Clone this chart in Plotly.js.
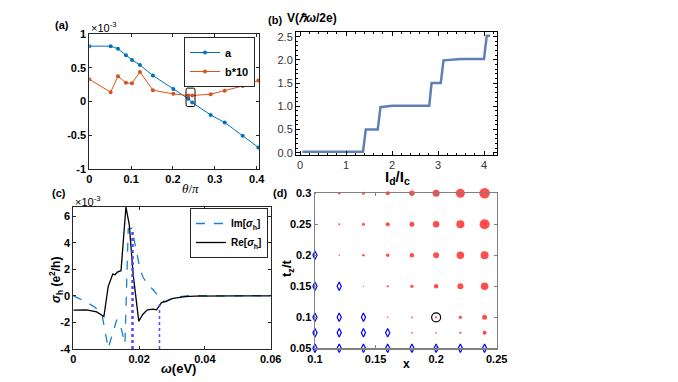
<!DOCTYPE html>
<html>
<head>
<meta charset="utf-8">
<script src="https://cdn.plot.ly/plotly-3.0.1.min.js"></script>
<style>html,body{margin:0;padding:0;background:#fff;}#chart{width:678px;height:382px;}</style>
</head>
<body>
<div id="chart"></div>
<script>
// ---------- Panel (a) data (values in units of 1e-3) ----------
const thetaX = [0, 0.051, 0.0685, 0.0876, 0.102, 0.121, 0.152, 0.2008, 0.2367, 0.246, 0.29, 0.3235, 0.3665, 0.404];
const aVals  = [0.82, 0.82, 0.78, 0.685, 0.616, 0.54, 0.384, 0.187, 0.04, -0.015, -0.2, -0.31, -0.507, -0.68];
const bVals  = [0.33, 0.138, 0.374, 0.276, 0.27, 0.438, 0.167, 0.113, 0.089, 0.089, 0.108, 0.158, 0.23, 0.31];
const highlightBox = {x0: 0.2312, x1: 0.2527, y0: -0.074, y1: 0.198};

// ---------- Panel (b) data ----------
const idX = [0.05, 1.37, 1.43, 1.69, 1.75, 2.0, 2.81, 2.86, 3.06, 3.12, 3.5, 4.0, 4.06, 4.13];
const vY  = [0.02, 0.02, 0.5, 0.5, 0.98, 1.01, 1.01, 1.5, 1.5, 1.99, 2.02, 2.02, 2.52, 2.52];

// ---------- Panel (c) data (sigma in units of 1e-3) ----------
const reX = [0, 0.004, 0.0071, 0.0093, 0.0106, 0.012, 0.0127, 0.0134, 0.0145, 0.016, 0.017, 0.0182, 0.0199, 0.0211, 0.0225, 0.0243, 0.0253, 0.0268, 0.0284, 0.03, 0.0314, 0.034, 0.037, 0.04, 0.043, 0.046, 0.05, 0.055, 0.06];
const reY = [-1.07, -1.05, -1.2, -1.55, 0.7, 1.65, 1.6, 1.8, 1.9, 6.7, 5.4, 1.6, -1.9, -1.4, -1.05, -1.0, -1.05, -0.5, -0.4, -0.2, -0.15, -0.05, -0.02, 0.0, 0.02, 0.0, 0.01, 0.0, 0.0];
const imX = [0, 0.0035, 0.0066, 0.0088, 0.0106, 0.0122, 0.0132, 0.0145, 0.0157, 0.0167, 0.0178, 0.019, 0.0203, 0.0213, 0.0228, 0.0243, 0.0264, 0.0279, 0.0289, 0.0304, 0.0324, 0.035, 0.04, 0.045, 0.05, 0.055, 0.06];
const imY = [0, -0.4, -0.85, -1.5, -3.95, -2.6, -1.8, -2.4, -3.6, 5.05, 5.1, 3.6, 2.0, 1.35, 0.85, 0.45, -0.15, -0.45, -0.3, -0.2, -0.05, 0.02, 0.0, 0.03, 0.0, 0.02, 0.0];
const markLineX   = [0.018, 0.0262];
const markLineTop = [5.0, -0.5];
const markLineW   = [2.5, 1.5];

// ---------- Panel (d) data ----------
const redX    = [0.10,0.12,0.14,0.16,0.18,0.20,0.22,0.24,
                 0.10,0.12,0.14,0.16,0.18,0.20,0.22,0.24,
                 0.12,0.14,0.16,0.18,0.20,0.22,0.24,
                 0.14,0.16,0.18,0.20,0.22,0.24,
                 0.16,0.18,0.20,0.22,0.24,
                 0.18,0.20,0.22,0.24];
const redY    = [0.3,0.3,0.3,0.3,0.3,0.3,0.3,0.3,
                 0.25,0.25,0.25,0.25,0.25,0.25,0.25,0.25,
                 0.2,0.2,0.2,0.2,0.2,0.2,0.2,
                 0.15,0.15,0.15,0.15,0.15,0.15,
                 0.1,0.1,0.1,0.1,0.1,
                 0.075,0.075,0.075,0.075];
const redSize = [2,2.5,3,4,5.5,7,9,10.5,
                 1.5,2,3,4,5,6.5,8,10,
                 1.5,2.5,3.5,4.5,6,7.5,8,
                 1.3,2.3,3.2,4.5,6,7.5,
                 1.5,1.7,2.3,3.3,5,
                 1.7,1.7,2.3,4];
const blueX = [0.10,0.12,0.14,0.16,0.18,0.20,0.22,0.24, 0.10,0.12,0.14,0.16, 0.10,0.12,0.14, 0.10,0.12, 0.10];
const blueY = [0.05,0.05,0.05,0.05,0.05,0.05,0.05,0.05, 0.075,0.075,0.075,0.075, 0.1,0.1,0.1, 0.15,0.15, 0.2];
const circledX = [0.2];
const circledY = [0.1];

// ---------- helpers ----------
const W = 678, H = 382;
const PX = p => p / W;
const PY = p => 1 - p / H;
const FONT = 'Liberation Sans, Arial, Helvetica, sans-serif';
const tickBold = {family: FONT, size: 11, color: '#000', weight: 'bold'};
const blueA = '#0072BD', orangeB = '#D95319';

const traces = [
  {x: thetaX, y: aVals, xaxis: 'x', yaxis: 'y', name: 'a', mode: 'lines+markers',
   line: {color: blueA, width: 1}, marker: {color: blueA, size: 4}, legend: 'legend'},
  {x: thetaX, y: bVals, xaxis: 'x', yaxis: 'y', name: 'b*10', mode: 'lines+markers',
   line: {color: orangeB, width: 1}, marker: {color: orangeB, size: 4}, legend: 'legend'},
  {x: idX, y: vY, xaxis: 'x2', yaxis: 'y2', mode: 'lines', showlegend: false,
   line: {color: '#5E81B5', width: 2.5}},
  {x: imX, y: imY, xaxis: 'x3', yaxis: 'y3', name: 'Im[<i>σ</i><sub>h</sub>]', mode: 'lines',
   line: {color: '#1a7fd4', width: 1.3, dash: 'dash'}, legend: 'legend2'},
  {x: reX, y: reY, xaxis: 'x3', yaxis: 'y3', name: 'Re[<i>σ</i><sub>h</sub>]', mode: 'lines',
   line: {color: '#000', width: 1.3}, legend: 'legend2'}
];
markLineX.forEach((vx, i) => {
  traces.push({x: [vx, vx], y: [-4, markLineTop[i]], xaxis: 'x3', yaxis: 'y3', mode: 'lines',
    showlegend: false, line: {color: '#4a4aff', width: markLineW[i], dash: 'dot'}});
});
traces.push({x: redX, y: redY, xaxis: 'x4', yaxis: 'y4', mode: 'markers', showlegend: false, cliponaxis: false,
  marker: {color: '#ff0000', size: redSize, line: {width: 0}}});
traces.push({x: blueX, y: blueY, xaxis: 'x4', yaxis: 'y4', mode: 'markers', showlegend: false, cliponaxis: false,
  marker: {symbol: 'diamond-tall-open', color: '#0000ff', size: 6, line: {width: 1.2}}});
traces.push({x: circledX, y: circledY, xaxis: 'x4', yaxis: 'y4', mode: 'markers', showlegend: false, cliponaxis: false,
  marker: {symbol: 'circle-open', color: '#000', size: 9, line: {width: 1.2}}});

const matAxis = (extra) => Object.assign({
  showline: true, linecolor: '#262626', linewidth: 1, mirror: 'ticks', ticks: 'inside', ticklen: 3,
  tickcolor: '#262626', showgrid: false, zeroline: false, tickfont: tickBold, fixedrange: true
}, extra);

const b = highlightBox, rx = 0.003, ry = 0.035;
const roundRect = `M ${b.x0+rx} ${b.y0} L ${b.x1-rx} ${b.y0} Q ${b.x1} ${b.y0} ${b.x1} ${b.y0+ry} L ${b.x1} ${b.y1-ry} Q ${b.x1} ${b.y1} ${b.x1-rx} ${b.y1} L ${b.x0+rx} ${b.y1} Q ${b.x0} ${b.y1} ${b.x0} ${b.y1-ry} L ${b.x0} ${b.y0+ry} Q ${b.x0} ${b.y0} ${b.x0+rx} ${b.y0} Z`;

const ann = (x, y, text, opts) => Object.assign({xref: 'paper', yref: 'paper', x: PX(x), y: PY(y), text: text,
  showarrow: false, xanchor: 'center', yanchor: 'middle', font: {family: FONT, size: 11, color: '#000', weight: 'bold'}}, opts || {});

const layout = {
  width: W, height: H, margin: {l: 0, r: 0, t: 0, b: 0}, paper_bgcolor: '#fff', plot_bgcolor: 'rgba(0,0,0,0)',
  font: {family: FONT, size: 11},
  xaxis: matAxis({domain: [PX(89.3), PX(259.3)], range: [0, 0.4063], anchor: 'y',
    tickvals: [0, 0.1, 0.2, 0.3, 0.4], ticktext: ['0', '0.1', '0.2', '0.3', '0.4']}),
  yaxis: matAxis({domain: [PY(169), PY(34)], range: [-1, 1], anchor: 'x',
    tickvals: [-1, -0.5, 0, 0.5, 1], ticktext: ['-1', '-0.5', '0', '0.5', '1']}),
  xaxis2: {domain: [PX(296), PX(496.7)], range: [-0.087, 4.276], anchor: 'y2', showline: true, linecolor: '#000', linewidth: 1,
    mirror: 'allticks', ticks: 'inside', ticklen: 4, tickcolor: '#000', showgrid: false, zeroline: false, dtick: 1, tick0: 0,
    minor: {ticks: 'inside', ticklen: 2, dtick: 0.2, tick0: 0, tickcolor: '#000', showgrid: false},
    tickfont: {family: FONT, size: 11, color: '#333'}, fixedrange: true},
  yaxis2: {domain: [PY(155), PY(31.7)], range: [-0.05, 2.608], anchor: 'x2', showline: true, linecolor: '#000', linewidth: 1,
    mirror: 'allticks', ticks: 'inside', ticklen: 4, tickcolor: '#000', showgrid: false, zeroline: false, dtick: 0.5, tick0: 0,
    tickformat: '.1f', minor: {ticks: 'inside', ticklen: 2, dtick: 0.1, tick0: 0, tickcolor: '#000', showgrid: false},
    tickfont: {family: FONT, size: 11, color: '#333'}, fixedrange: true},
  xaxis3: matAxis({domain: [PX(73.3), PX(270.7)], range: [0, 0.06], anchor: 'y3',
    tickvals: [0, 0.02, 0.04, 0.06], ticktext: ['0', '0.02', '0.04', '0.06']}),
  yaxis3: matAxis({domain: [PY(349), PY(206.7)], range: [-4, 6.725], anchor: 'x3',
    tickvals: [-4, -2, 0, 2, 4, 6], ticktext: ['-4', '-2', '0', '2', '4', '6']}),
  xaxis4: matAxis({domain: [PX(315), PX(496.7)], range: [0.1, 0.25], anchor: 'y4', linecolor: '#808080', linewidth: 1.5,
    tickcolor: '#808080', tickvals: [0.1, 0.15, 0.2, 0.25], ticktext: ['0.1', '0.15', '0.2', '0.25']}),
  yaxis4: matAxis({domain: [PY(348.3), PY(193.3)], range: [0.05, 0.3], anchor: 'x4', linecolor: '#808080', linewidth: 1.5,
    tickcolor: '#808080', tickvals: [0.05, 0.1, 0.15, 0.2, 0.25, 0.3], ticktext: ['0.05', '0.1', '0.15', '0.2', '0.25', '0.3']}),
  legend: {x: PX(255), y: PY(37), xanchor: 'right', yanchor: 'top', bgcolor: '#fff', bordercolor: '#262626', borderwidth: 1,
    font: {family: FONT, size: 11, color: '#000', weight: 'bold'}, tracegroupgap: 0, itemwidth: 30},
  legend2: {x: PX(268), y: PY(208), xanchor: 'right', yanchor: 'top', bgcolor: '#fff', bordercolor: '#262626', borderwidth: 1,
    font: {family: FONT, size: 10, color: '#000', weight: 'bold'}, tracegroupgap: 0, itemwidth: 30},
  shapes: [
    {type: 'path', xref: 'x', yref: 'y', path: roundRect, line: {color: '#000', width: 1}, fillcolor: 'rgba(0,0,0,0)'}
  ],
  annotations: [
    ann(62, 25, '(a)'),
    ann(89, 27, '×10<sup>-3</sup>', {xanchor: 'left', font: {family: FONT, size: 11, color: '#000'}}),
    ann(191, 188, '<i>θ</i>/<i>π</i>', {font: {family: 'Liberation Serif, Times New Roman, serif', size: 13, color: '#000'}}),
    ann(266, 20, '(b)', {xanchor: 'left', font: {family: FONT, size: 11, color: '#000', weight: 'bold'}}),
    ann(285, 18, 'V(<i>ℏω</i>/2e)', {xanchor: 'left', font: {family: FONT, size: 12, color: '#000', weight: 'bold'}}),
    ann(398, 177, 'I<sub>d</sub>/I<sub>c</sub>', {font: {family: FONT, size: 15, color: '#000', weight: 'bold'}}),
    ann(59, 193, '(c)'),
    ann(73, 201, '×10<sup>-3</sup>', {xanchor: 'left', font: {family: FONT, size: 11, color: '#000'}}),
    ann(56, 280, '<i>σ</i><sub>h</sub> (e<sup>2</sup>/h)', {textangle: -90, font: {family: FONT, size: 12, color: '#000', weight: 'bold'}}),
    ann(178, 368, '<i>ω</i>(eV)', {font: {family: FONT, size: 13, color: '#000', weight: 'bold'}}),
    ann(280, 193, '(d)'),
    ann(287, 268, 't<sub>z</sub>/t', {textangle: -90, font: {family: FONT, size: 13, color: '#000', weight: 'bold'}}),
    ann(406, 364, 'x', {font: {family: FONT, size: 12, color: '#000', weight: 'bold'}})
  ]
};

Plotly.newPlot('chart', traces, layout, {staticPlot: true, displayModeBar: false});
</script>
</body>
</html>
